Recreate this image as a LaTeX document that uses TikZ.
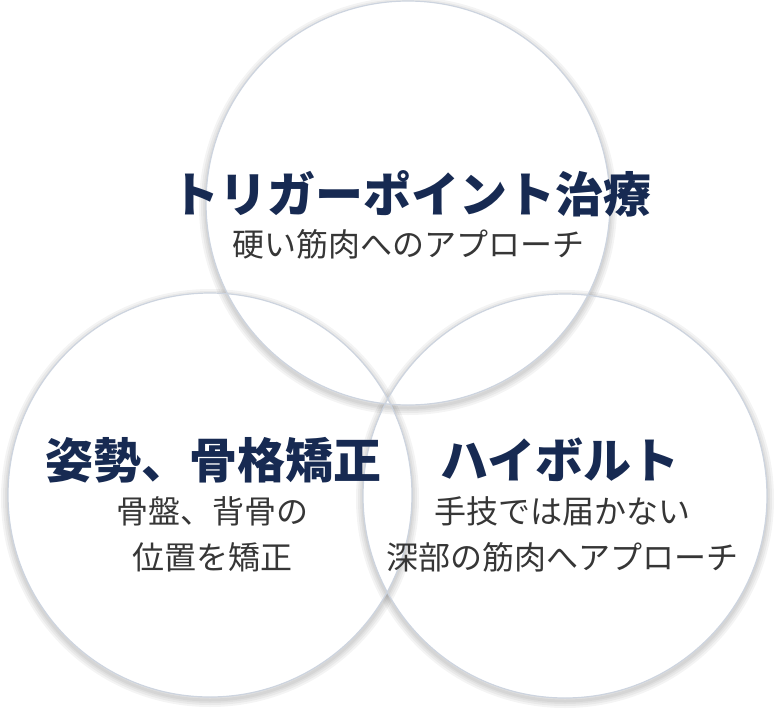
\documentclass[tikz,border=0pt]{standalone}
\usepackage{fontspec}
\setmainfont{Noto Sans CJK JP}
\usetikzlibrary{backgrounds}

\definecolor{navy}{HTML}{172A52}
\definecolor{grey}{HTML}{363636}
\definecolor{rim}{HTML}{CDD4DF}

\tikzset{
    bubble/.style={circle, draw=rim, line width=1.2pt, minimum size=404pt, inner sep=0pt},
    title/.style={text=navy, font=\bfseries\fontsize{48}{54}\selectfont},
    sub/.style={text=grey, align=center, font=\fontsize{32}{46}\selectfont},
    invclip/.style={clip, insert path={{[reset cm] (-2000pt,-2000pt) rectangle (2000pt,2000pt)}}},
}

\begin{document}
\begin{tikzpicture}[x=1pt, y=-1pt]
    \useasboundingbox (0,0) rectangle (776,716);

    \node[bubble] at (210,495) (left)  {};
    \node[bubble] at (565,496) (right) {};
    \node[bubble] at (408,203) (top)   {};

    % soft shadow outside each circle
    \begin{scope}[on background layer]
        \foreach \c in {left,right,top} {
            \begin{scope}
                \clip[invclip] (\c.center) circle (202pt);
                \foreach \w in {14,10,6,3}
                    \draw[black, opacity=.045, line width=\w pt] ([yshift=-3pt]\c.center) circle (202pt);
            \end{scope}
        }
    \end{scope}

    \node[title] at (411,194) (toptitle)   {トリガーポイント治療};
    \node[sub]   at (408,244) (topsub)     {硬い筋肉へのアプローチ};

    \node[title] at (213,460) (lefttitle)  {姿勢、骨格矯正};
    \node[sub]   at (212,534) (leftsub)    {骨盤、背骨の\\位置を矯正};

    \node[title] at (560,460) (righttitle) {ハイボルト};
    \node[sub]   at (562,534) (rightsub)   {手技では届かない\\深部の筋肉へアプローチ};
\end{tikzpicture}
\end{document}
